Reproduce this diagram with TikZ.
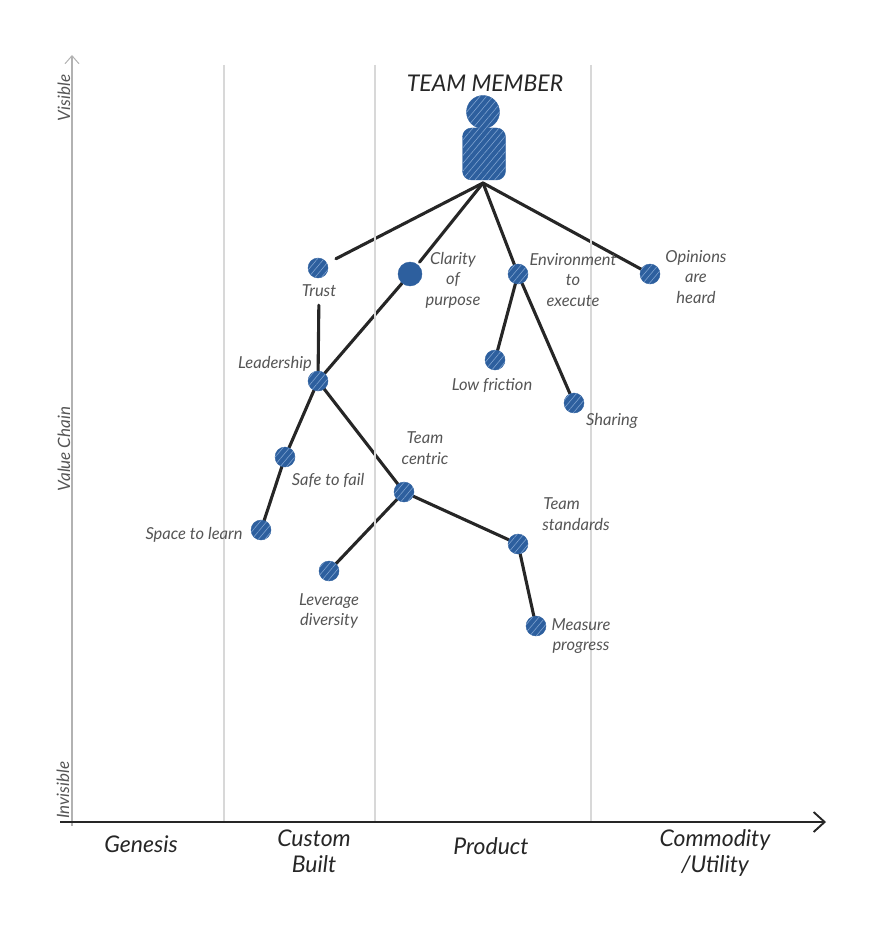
\documentclass[tikz,border=0pt]{standalone}
\usepackage{fontspec}
\setmainfont{Lato}
\usetikzlibrary{patterns.meta,arrows.meta,backgrounds}
\definecolor{teamblue}{HTML}{2D5F9E}
\definecolor{hatchblue}{HTML}{7FA3D0}
\definecolor{inkgray}{HTML}{555555}
\definecolor{inkdark}{HTML}{262626}
\definecolor{gridgray}{HTML}{D8D8D8}
\tikzset{
  dot/.style={circle,fill=teamblue,draw=teamblue,inner sep=0pt,minimum size=20pt},
  hatchfill/.style={postaction={pattern={Lines[angle=50,distance=5pt,line width=.6pt]},pattern color=hatchblue}},
  lab/.style={font=\fontsize{16.5}{20.5}\selectfont\itshape,text=inkgray,align=center,inner sep=0pt},
  axlab/.style={font=\fontsize{17}{20}\selectfont\itshape,text=inkgray,rotate=90,inner sep=0pt},
  stage/.style={font=\fontsize{23}{26}\selectfont\itshape,text=inkdark,align=center,inner sep=0pt},
  edge/.style={draw=inkdark,line width=3.1pt,line cap=round},
  grid/.style={draw=gridgray,line width=1.8pt},
}
\begin{document}
\begin{tikzpicture}[x=1pt,y=-1pt]
\useasboundingbox (0,0) rectangle (869,925);
% stage dividers
\coordinate (g1t) at (224,65); \coordinate (g1b) at (224,822);
\coordinate (g2t) at (375,65); \coordinate (g2b) at (375,822);
\coordinate (g3t) at (591,65); \coordinate (g3b) at (591,822);
\draw[grid] (g1t) -- (g1b);
\draw[grid] (g2t) -- (g2b);
\draw[grid] (g3t) -- (g3b);
% axes
\coordinate (orig) at (72,826); \coordinate (ytop) at (72,55);
\coordinate (xstart) at (60,822); \coordinate (xend) at (826,822);
\draw[draw=gray!60,line width=1.2pt,-{Straight Barb[length=8pt,width=14pt,line width=1pt]}] (orig) -- (ytop);
\draw[draw=inkdark,line width=1.9pt,-{Straight Barb[length=11pt,width=20pt,line width=1.9pt]}] (xstart) -- (xend);
\node[axlab] (visible) at (64,98) {Visible};
\node[axlab] (value) at (64,449) {Value Chain};
\node[axlab] (invisible) at (63,790) {Invisible};
\node[stage] (genesis) at (141,844) {Genesis};
\node[stage] (custom) at (314,851) {Custom\\Built};
\node[stage] (product) at (491,846) {Product};
\node[stage] (commodity) at (715,853) {Commodity\\/Utility};
% anchor
\node[font=\fontsize{23}{26}\selectfont\itshape,text=inkdark,inner sep=0pt] (teamlabel) at (485,83) {TEAM MEMBER};
\node[circle,fill=teamblue,draw=teamblue,hatchfill,inner sep=0pt,minimum size=33pt] (head) at (483,112) {};
\node[rounded corners=9pt,fill=teamblue,draw=teamblue,hatchfill,inner sep=0pt,minimum width=43pt,minimum height=52pt] (body) at (484,154) {};
\coordinate (root) at (483,183);
% component dots
\node[dot,hatchfill] (trust) at (318,268) {};
\node[dot,minimum size=24pt] (clarity) at (410,274) {};
\node[dot,hatchfill] (env) at (518,274) {};
\node[dot,hatchfill] (opinions) at (650,274) {};
\node[dot,hatchfill] (lead) at (318,381) {};
\node[dot,hatchfill] (low) at (495,360) {};
\node[dot,hatchfill] (sharing) at (574,403) {};
\node[dot,hatchfill] (safe) at (285,457) {};
\node[dot,hatchfill] (space) at (261,530) {};
\node[dot,hatchfill] (teamc) at (404,492) {};
\node[dot,hatchfill] (leverage) at (329,571) {};
\node[dot,hatchfill] (std) at (518,544) {};
\node[dot,hatchfill] (measure) at (536,626) {};
% labels
\node[lab] (ltrust) at (319,291) {Trust};
\node[lab] (lclarity) at (453,280) {Clarity\\of\\purpose};
\node[lab] (lenv) at (573,280) {Environment\\to\\execute};
\node[lab] (lopinions) at (696,277) {Opinions\\are\\heard};
\node[lab] (llead) at (275,364) {Leadership};
\node[lab] (llow) at (492,386) {Low friction};
\node[lab] (lsharing) at (612,421) {Sharing};
\node[lab] (lsafe) at (328,480) {Safe to fail};
\node[lab] (lspace) at (194,535) {Space to learn};
\node[lab] (lteamc) at (425,448) {Team\\centric};
\node[lab] (lleverage) at (329,611) {Leverage\\diversity};
\node[lab,align=left] (lstd) at (576,514) {\hspace*{1pt}Team\\standards};
\node[lab] (lmeasure) at (581,636) {Measure\\progress};
% connectors
\begin{scope}[on background layer]
\draw[edge,shorten >=10pt] (root) -- (trust);
\draw[edge,shorten >=3pt] (root) -- (clarity);
\draw[edge] (root) -- (env);
\draw[edge] (root) -- (opinions);
\draw[edge,shorten <=8pt] (ltrust) -- (lead);
\draw[edge] (clarity) -- (lead);
\draw[edge] (env) -- (low);
\draw[edge] (env) -- (sharing);
\draw[edge] (lead) -- (safe);
\draw[edge] (safe) -- (space);
\draw[edge] (lead) -- (teamc);
\draw[edge] (teamc) -- (leverage);
\draw[edge] (teamc) -- (std);
\draw[edge] (std) -- (measure);
\end{scope}
\end{tikzpicture}
\end{document}
